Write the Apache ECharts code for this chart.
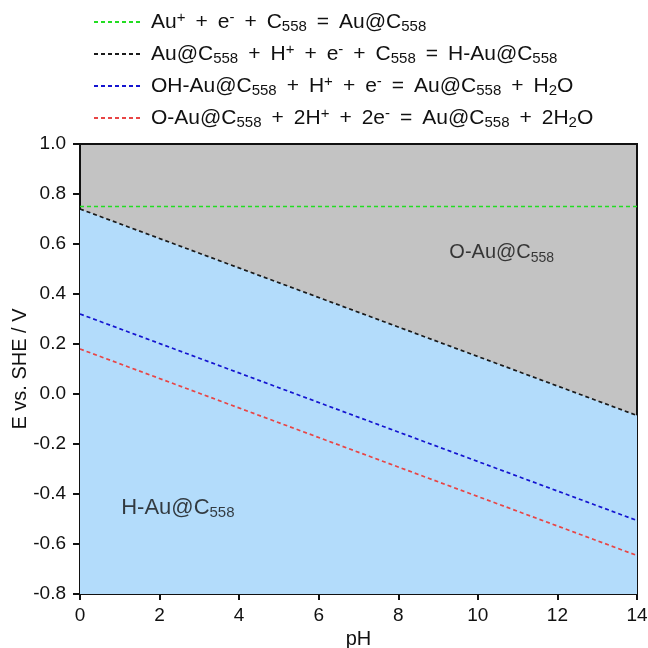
<!DOCTYPE html>
<html>
<head>
<meta charset="utf-8">
<script src="https://cdn.jsdelivr.net/npm/echarts@6/dist/echarts.min.js"></script>
<style>html,body{margin:0;padding:0;background:#fff}#c{width:648px;height:648px}</style>
</head>
<body>
<div id="c"></div>
<script>
// pH endpoints for each boundary line
const pH = [0, 14];
// Equilibrium potentials (V vs SHE) at pH 0 and pH 14
const auReduction = [0.75, 0.75];
const hydrideFormation = [0.74, -0.086];
const hydroxylReduction = [0.32, -0.506];
const oxideReduction = [0.18, -0.646];

const seriesNames = ['AuRed', 'HAu', 'OHAu', 'OAu'];
const legendLabels = [
  'Au{sup|+} + e{sup|-} + C{sub|558} = Au@C{sub|558}',
  'Au@C{sub|558} + H{sup|+} + e{sup|-} + C{sub|558} = H-Au@C{sub|558}',
  'OH-Au@C{sub|558} + H{sup|+} + e{sup|-} = Au@C{sub|558} + H{sub|2}O',
  'O-Au@C{sub|558} + 2H{sup|+} + 2e{sup|-} = Au@C{sub|558} + 2H{sub|2}O'
];
const lineColors = ['#22dd22', '#1a1a1a', '#1414d0', '#e84545'];
const regionLabels = [
  { name: 'O-Au@C{sub|558}', pos: [10.6, 0.565], size: 20 },
  { name: 'H-Au@C{sub|558}', pos: [2.46, -0.456], size: 22 }
];

const font = 'Liberation Sans, Arial, sans-serif';
const ink = '#111';

// wider spaces around the operators in the equations
const spaced = s => s.replace(/ /g, '{sp| }');

const legendRich = {
  sub: { fontSize: 15, lineHeight: 9, verticalAlign: 'bottom', fontFamily: font, color: ink },
  sup: { fontSize: 15, lineHeight: 7, verticalAlign: 'top', fontFamily: font, color: ink },
  sp: { fontSize: 21, width: 10, fontFamily: font, color: ink }
};
const subRich = size => ({
  sub: { fontSize: Math.round(size * 0.7), lineHeight: 9, verticalAlign: 'bottom', fontFamily: font, color: ink }
});

const toPairs = ys => pH.map((x, i) => [x, ys[i]]);
const lineData = [auReduction, hydrideFormation, hydroxylReduction, oxideReduction];

const series = lineData.map((ys, i) => ({
  name: seriesNames[i],
  type: 'line',
  data: toPairs(ys),
  symbol: 'none',
  silent: true,
  z: 5,
  lineStyle: { color: lineColors[i], width: 1.7, type: [4, 3] },
  itemStyle: { color: lineColors[i] }
}));

// Blue stability region under the H-Au boundary
series.unshift({
  type: 'line',
  data: toPairs(hydrideFormation),
  symbol: 'none',
  silent: true,
  z: 1,
  lineStyle: { width: 0 },
  areaStyle: { color: '#b3dcfb', opacity: 1, origin: 'start' }
});

series.push({
  type: 'scatter',
  symbolSize: 0,
  silent: true,
  z: 6,
  data: regionLabels.map(r => ({
    value: r.pos,
    name: r.name,
    label: { fontSize: r.size, rich: subRich(r.size) }
  })),
  label: {
    show: true,
    position: 'inside',
    formatter: p => p.name,
    lineHeight: 24,
    fontFamily: font,
    color: ink
  }
});

const chart = echarts.init(document.getElementById('c'), null, { renderer: 'canvas' });
chart.setOption({
  animation: false,
  backgroundColor: '#fff',
  grid: {
    left: 80, right: 11, top: 144, bottom: 54,
    outerBoundsMode: 'none', containLabel: false,
    show: true, backgroundColor: '#c3c3c3', borderColor: '#111', borderWidth: 2
  },
  legend: {
    data: seriesNames,
    orient: 'vertical',
    left: 88,
    top: 5,
    itemWidth: 46,
    itemHeight: 10,
    itemGap: 8,
    itemStyle: { opacity: 0 },
    formatter: n => spaced(legendLabels[seriesNames.indexOf(n)]),
    textStyle: { fontSize: 21, lineHeight: 24, fontFamily: font, color: ink, padding: [0, 0, 0, 6], rich: legendRich }
  },
  xAxis: {
    type: 'value', min: 0, max: 14, interval: 2,
    name: 'pH', nameLocation: 'middle', nameGap: 35, nameMoveOverlap: false,
    nameTextStyle: { fontSize: 20, fontFamily: font, color: ink },
    axisLine: { show: true, onZero: false, lineStyle: { color: ink, width: 2 } },
    axisTick: { show: true, length: 6, lineStyle: { color: ink, width: 2 } },
    axisLabel: { fontSize: 19, fontFamily: font, color: ink, margin: 12 },
    splitLine: { show: false }
  },
  yAxis: {
    type: 'value', min: -0.8, max: 1.0, interval: 0.2,
    name: 'E vs. SHE / V', nameLocation: 'middle', nameGap: 50, nameRotate: 90, nameMoveOverlap: false,
    nameTextStyle: { fontSize: 20, fontFamily: font, color: ink },
    axisLine: { show: true, onZero: false, lineStyle: { color: ink, width: 2 } },
    axisTick: { show: true, length: 7, lineStyle: { color: ink, width: 2 } },
    axisLabel: { fontSize: 19, fontFamily: font, color: ink, margin: 14, formatter: v => v.toFixed(1) },
    splitLine: { show: false }
  },
  series: series
});
</script>
</body>
</html>
